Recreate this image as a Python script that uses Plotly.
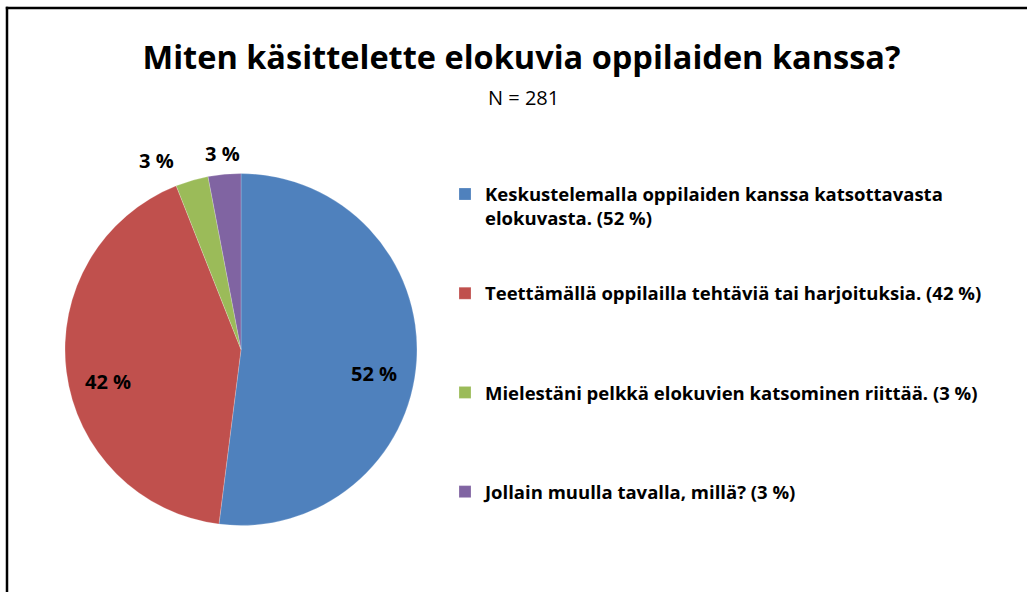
import math
import plotly.graph_objects as go

categories = [
    "Keskustelemalla oppilaiden kanssa katsottavasta elokuvasta.",
    "Teettämällä oppilailla tehtäviä tai harjoituksia.",
    "Mielestäni pelkkä elokuvien katsominen riittää.",
    "Jollain muulla tavalla, millä?",
]
values = [52, 42, 3, 3]
colors = ["#4F81BD", "#C0504D", "#9BBB59", "#8064A2"]
label_position = ["inside", "inside", "outside", "outside"]
title_text = "Miten käsittelette elokuvia oppilaiden kanssa?"
subtitle_text = "N = 281"

FONT = "Open Sans"

# legend labels (wrapped, with padding lines to space the entries like the original)
wrap = {0: "Keskustelemalla oppilaiden kanssa katsottavasta<br>elokuvasta."}
pads = [2, 3, 3, 0]
legend_labels = []
for i, (c, v) in enumerate(zip(categories, values)):
    base = wrap.get(i, c) + f" ({v} %)"
    legend_labels.append(base + "<br> " * pads[i])
pct_text = [f"{v} %" for v in values]

W, H = 1027, 592
cx, cy, r = 241, 349.5, 176

# data label positions derived from slice angles (clockwise from 12 o'clock)
total = sum(values)
annots = []
cum = 0
positions = []
for v, pos in zip(values, label_position):
    mid = (cum + v / 2) / total * 2 * math.pi
    cum += v
    rr = r * (0.76 if pos == "inside" else 1.12)
    x = cx + rr * math.sin(mid)
    y = cy - rr * math.cos(mid)
    positions.append([x, y, pos])
# keep neighbouring outside labels from overlapping
min_sep = 66
for i in range(len(positions) - 2, -1, -1):
    a, b = positions[i], positions[i + 1]
    if a[2] == "outside" and b[2] == "outside" and abs(a[1] - b[1]) < 30 and b[0] - a[0] < min_sep:
        a[0] = b[0] - min_sep
for (x, y, pos), t in zip(positions, pct_text):
    annots.append(dict(
        text=t, x=x / W, y=1 - y / H, xref="paper", yref="paper",
        xanchor="center", yanchor="top" if pos == "inside" else "middle",
        showarrow=False,
        font=dict(family=FONT, size=20, color="black", weight="bold"),
    ))

annots.append(dict(
    text=subtitle_text, x=523 / W, y=1 - 97.5 / H, xref="paper", yref="paper",
    xanchor="center", yanchor="middle", showarrow=False,
    font=dict(family=FONT, size=20, color="black"),
))

fig = go.Figure(
    go.Pie(
        labels=legend_labels,
        values=values,
        text=pct_text,
        textinfo="none",
        hoverinfo="text+percent",
        sort=False,
        direction="clockwise",
        rotation=0,
        marker=dict(colors=colors, line=dict(color="rgba(255,255,255,0.35)", width=0.6)),
        domain=dict(x=[(cx - r) / W, (cx + r) / W], y=[1 - (cy + r) / H, 1 - (cy - r) / H]),
        showlegend=True,
    )
)

fig.update_layout(
    width=W,
    height=H,
    margin=dict(l=0, r=0, t=0, b=0),
    paper_bgcolor="white",
    plot_bgcolor="white",
    title=dict(
        text=title_text,
        x=521.5 / W,
        xanchor="center",
        y=1 - 58 / H,
        yanchor="middle",
        font=dict(family=FONT, size=32.5, color="black", weight="bold"),
    ),
    legend=dict(
        x=445 / W,
        y=1 - 175.5 / H,
        xanchor="left",
        yanchor="top",
        valign="top",
        font=dict(family=FONT, size=18.5, color="black", weight="bold"),
        bgcolor="rgba(0,0,0,0)",
        traceorder="normal",
    ),
    annotations=annots,
    shapes=[
        dict(type="line", xref="paper", yref="paper", x0=7 / W, x1=7 / W, y0=0, y1=1 - 6.8 / H,
             line=dict(color="black", width=2.5)),
        dict(type="line", xref="paper", yref="paper", x0=5.8 / W, x1=1, y0=1 - 8 / H, y1=1 - 8 / H,
             line=dict(color="black", width=2.5)),
    ],
)

fig.write_html(
    "out.html",
    config={"displayModeBar": False},
    post_script="document.body.style.margin='0';",
)
